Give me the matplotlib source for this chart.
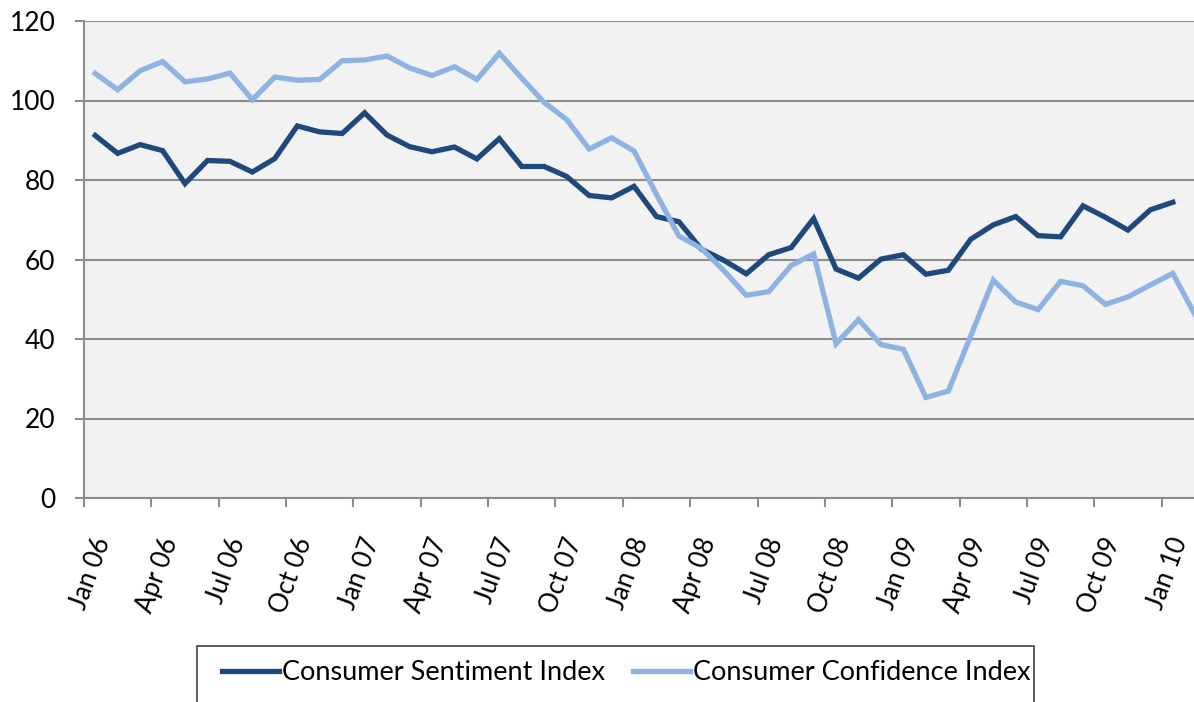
import matplotlib
matplotlib.use("Agg")
import matplotlib.pyplot as plt
from matplotlib.patches import Rectangle
import numpy as np

plt.rcParams["font.family"] = ["Lato", "DejaVu Sans"]

months = [f"{m} {y:02d}" for y in range(6, 11)
          for m in ["Jan", "Feb", "Mar", "Apr", "May", "Jun",
                    "Jul", "Aug", "Sep", "Oct", "Nov", "Dec"]][:50]

sentiment = [91.2, 86.7, 88.9, 87.4, 79.1, 84.9, 84.7, 82.0, 85.4, 93.6, 92.1, 91.7,
             96.9, 91.3, 88.4, 87.1, 88.3, 85.3, 90.4, 83.4, 83.4, 80.9, 76.1, 75.5,
             78.4, 70.8, 69.5, 62.6, 59.8, 56.4, 61.2, 63.0, 70.3, 57.6, 55.3, 60.1,
             61.2, 56.3, 57.3, 65.1, 68.7, 70.8, 66.0, 65.7, 73.5, 70.6, 67.4, 72.5,
             74.4]

confidence = [106.8, 102.7, 107.5, 109.8, 104.7, 105.4, 106.9, 100.2, 105.9, 105.1, 105.3, 110.0,
              110.2, 111.2, 108.2, 106.3, 108.5, 105.3, 111.9, 105.6, 99.5, 95.2, 87.8, 90.6,
              87.3, 76.4, 65.9, 62.8, 57.2, 51.0, 51.9, 58.5, 61.4, 38.8, 44.9, 38.6,
              37.4, 25.3, 26.9, 40.8, 54.8, 49.3, 47.4, 54.5, 53.4, 48.7, 50.6, 53.6,
              56.5, 46.0]

dark = "#1F497D"
light = "#8DB3E2"
grid_col = "#8C8C8C"

fig = plt.figure(figsize=(11.94, 7.02), dpi=100)
ax = fig.add_axes([84 / 1194, 1 - 498 / 702, 1 - 84 / 1194, (498 - 21) / 702])
ax.set_facecolor("#F2F2F2")

x_s = np.arange(len(sentiment)) + 0.5
x_c = np.arange(len(confidence)) + 0.5
ax.plot(x_s, sentiment, color=dark, lw=3.8, label="Consumer Sentiment Index",
        solid_joinstyle="miter", zorder=3)
ax.plot(x_c, confidence, color=light, lw=3.8, label="Consumer Confidence Index",
        solid_joinstyle="miter", zorder=3)

ax.set_ylim(0, 120)
ax.set_yticks(range(0, 121, 20))
ax.set_xlim(0, 1110 / 22.45)

# tick marks sit on category boundaries, labels a little right of them
tick_pos = list(range(0, 49, 3))
ax.set_xticks(tick_pos)
ax.set_xticklabels([])
ax.set_xticks([p + 0.85 for p in tick_pos], minor=True)
ax.set_xticklabels([months[i] for i in tick_pos], minor=True, rotation=70,
                   ha="right", va="center", rotation_mode="anchor")

ax.grid(axis="y", color=grid_col, lw=1.5, zorder=1)
ax.set_axisbelow(True)
for side in ["top", "right"]:
    ax.spines[side].set_visible(False)
for side in ["left", "bottom"]:
    ax.spines[side].set_color(grid_col)
    ax.spines[side].set_linewidth(1.5)

ax.tick_params(axis="y", length=6.5, width=1.5, color=grid_col, pad=14, labelsize=19)
ax.tick_params(axis="x", which="major", length=6.5, width=1.5, color=grid_col)
ax.tick_params(axis="x", which="minor", length=0, pad=29, labelsize=18.5)

fig.patches.append(Rectangle((197 / 1194, -0.02), (1034 - 197) / 1194, 0.02 + (702 - 646) / 702,
                             transform=fig.transFigure, facecolor="white",
                             edgecolor="#404040", lw=1.2))

fig.legend(loc="center", bbox_to_anchor=(626.5 / 1194, 1 - 673 / 702), ncol=2,
           frameon=False, fontsize=19.5, handlelength=2.1, handletextpad=0.1,
           columnspacing=1.05)

fig.savefig("out.png", dpi=100)
